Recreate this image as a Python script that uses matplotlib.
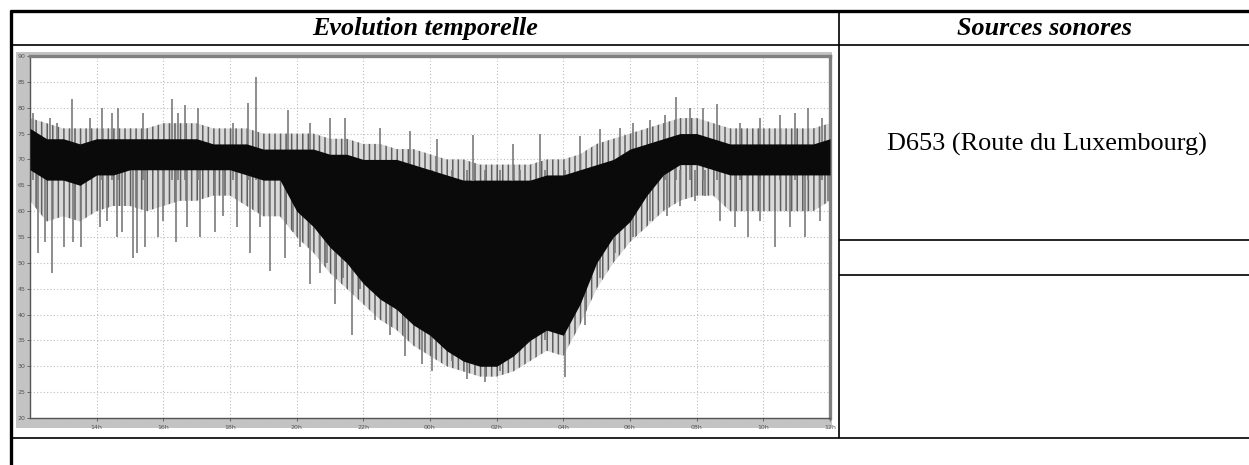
#Noise level time history chart inside a report table
import numpy as np
import matplotlib
matplotlib.use("Agg")
import matplotlib.pyplot as plt
from matplotlib.lines import Line2D
from matplotlib.patches import Rectangle

W, H = 1249, 465

# time grid, half-hour steps from 12h to 12h next day (hours, 24+ = next day)
hours = np.arange(12.0, 36.01, 0.5)

# dense black band of the signal (dB(A))
core_hi = [76, 74, 74, 73, 74, 74, 74, 74, 74, 74, 74, 73, 73, 73, 72, 72,
           72, 72, 71, 71, 70, 70, 70, 69, 68, 67, 66, 66, 66, 66, 66, 67,
           67, 68, 69, 70, 72, 73, 74, 75, 75, 74, 73, 73, 73, 73, 73, 73, 74]
core_lo = [68, 66, 66, 65, 67, 67, 68, 68, 68, 68, 68, 68, 68, 67, 66, 66,
           60, 57, 53, 50, 46, 43, 41, 38, 36, 33, 31, 30, 30, 32, 35, 37,
           36, 42, 50, 55, 58, 63, 67, 69, 69, 68, 67, 67, 67, 67, 67, 67, 67]

# where most of the grey spikes reach
spread_hi = [78, 77, 76, 76, 76, 76, 76, 76, 77, 77, 77, 76, 76, 76, 75, 75,
             75, 75, 74, 74, 73, 73, 72, 72, 71, 70, 70, 69, 69, 69, 69, 70,
             70, 71, 73, 74, 75, 76, 77, 78, 78, 77, 76, 76, 76, 76, 76, 76, 77]
spread_lo = [62, 58, 59, 58, 60, 61, 61, 60, 61, 62, 62, 63, 63, 61, 59, 59,
             55, 52, 48, 45, 42, 39, 37, 34, 32, 30, 29, 28, 28, 29, 31, 33,
             32, 38, 45, 50, 54, 57, 60, 62, 63, 63, 60, 60, 60, 60, 60, 60, 62]

# single downward spikes (time h, minimum dB)
down_t = [12.24, 12.45, 12.66, 13.02, 13.29, 13.53, 14.10, 14.30, 14.61, 14.76,
          15.09, 15.21, 15.45, 15.84, 16.00, 16.38, 16.70, 17.10, 17.55, 17.80,
          18.21, 18.60, 18.90, 19.20, 19.65, 19.90, 20.10, 20.40, 20.70, 20.90,
          21.15, 21.40, 21.66, 21.90, 22.35, 22.80, 23.25, 23.76, 24.06, 24.66,
          25.11, 25.65, 26.10, 26.70, 27.45, 28.05, 28.65, 29.10, 29.55, 30.09,
          30.60, 31.11, 31.50, 31.95, 32.25, 32.70, 33.15, 33.54, 33.90, 34.35,
          34.80, 35.25, 35.70, 35.94]
down_v = [52, 54, 48, 53, 54, 53, 57, 58, 55, 56,
          51, 52, 53, 55, 58, 54, 57, 55, 56, 59,
          57, 52, 57, 48.5, 51, 56, 53, 46, 48, 50,
          42, 47, 36, 45, 39, 36, 32, 30.5, 29, 31,
          27.5, 27, 29, 33, 35, 28, 38, 47, 52, 55,
          58, 59, 61, 62, 63, 58, 57, 55, 58, 53,
          57, 55, 58, 62]

# single upward spikes (time h, maximum dB)
up_t = [12.09, 12.60, 12.81, 13.26, 13.80, 14.16, 14.46, 14.64, 15.39, 16.26,
        16.44, 16.65, 17.04, 18.09, 18.54, 18.78, 19.74, 20.40, 21.00, 21.45,
        22.50, 23.40, 24.21, 25.29, 26.49, 27.30, 28.50, 29.10, 29.70, 30.09,
        30.60, 31.05, 31.38, 31.80, 32.19, 32.61, 33.30, 33.90, 34.50, 34.95,
        35.34, 35.76]
up_v = [79, 78, 77, 81.6, 78, 80, 79, 80, 79, 81.6,
        79, 80.5, 80, 77, 81, 86, 79.5, 77, 78, 78,
        76, 75.5, 74, 74.8, 73, 75, 74.5, 75.8, 76, 77,
        77.7, 78.5, 82, 80, 80, 80.7, 77, 78, 78.5, 79,
        80, 78]

x_ticks = [14, 16, 18, 20, 22, 24, 26, 28, 30, 32, 34, 36]
x_labels = ["14h", "16h", "18h", "20h", "22h", "00h", "02h", "04h", "06h",
            "08h", "10h", "12h"]
y_ticks = list(range(20, 91, 5))

plt.rcParams["hatch.linewidth"] = 1.1

fig = plt.figure(figsize=(W / 100, H / 100), dpi=100)


def fx(x):
    return x / W


def fy(y):
    return 1 - y / H


def hline(y, x0, x1, lw=1.2):
    fig.add_artist(Line2D([fx(x0), fx(x1)], [fy(y), fy(y)], color="black",
                          lw=lw, solid_capstyle="butt"))


def vline(x, y0, y1, lw=1.2):
    fig.add_artist(Line2D([fx(x), fx(x)], [fy(y0), fy(y1)], color="black",
                          lw=lw, solid_capstyle="butt"))


# table frame
hline(11.2, 10, W, lw=2.4)
vline(11.3, 10, H, lw=2.4)
hline(44.8, 11, W)
hline(437.6, 11, W)
vline(838.8, 11, 437.6)
hline(240.3, 838.8, W)
hline(275.3, 838.8, W)

serif = ["Liberation Serif", "DejaVu Serif"]
fig.text(fx(425), fy(28.5), "Evolution temporelle", family=serif, fontsize=18.8,
         weight="bold", style="italic", ha="center", va="center")
fig.text(fx(1044), fy(28.5), "Sources sonores", family=serif, fontsize=18.8,
         weight="bold", style="italic", ha="center", va="center")
fig.text(fx(1047), fy(144), "D653 (Route du Luxembourg)", family=serif,
         fontsize=18.9, ha="center", va="center")

# grey background of the pasted chart image
fig.add_artist(Rectangle((fx(16), fy(428)), fx(832) - fx(16), fy(52) - fy(428),
                         transform=fig.transFigure, facecolor="#c3c3c3",
                         edgecolor="none", zorder=0))

ax = fig.add_axes([fx(30), fy(418), fx(830) - fx(30), fy(56) - fy(418)])
ax.set_facecolor("white")
ax.set_xlim(12, 36)
ax.set_ylim(20, 90)

ax.fill_between(hours, spread_lo, spread_hi, facecolor="#d9d9d9",
                edgecolor="#5f5f5f", hatch="|||", lw=0, zorder=2)
ax.vlines(down_t, down_v, 68, color="#7a7a7a", lw=1.2, zorder=3)
ax.vlines(up_t, 66, up_v, color="#7a7a7a", lw=1.2, zorder=3)
ax.fill_between(hours, core_lo, core_hi, color="#0a0a0a", lw=0, zorder=4)

ax.set_xticks(x_ticks)
ax.set_xticklabels(x_labels)
ax.set_yticks(y_ticks)
ax.grid(True, color="#bdbdbd", lw=0.8, ls=(0, (1, 2)), zorder=1)
ax.set_axisbelow(True)
ax.tick_params(labelsize=4.5, colors="#555555", length=2, width=0.6, pad=1.5)
ax.tick_params(axis="x", pad=3)

for side in ["left", "bottom"]:
    ax.spines[side].set_color("#555555")
    ax.spines[side].set_linewidth(1.0)
for side in ["top", "right"]:
    ax.spines[side].set_color("#808080")
    ax.spines[side].set_linewidth(2.4)

fig.savefig("out.png", dpi=100)
